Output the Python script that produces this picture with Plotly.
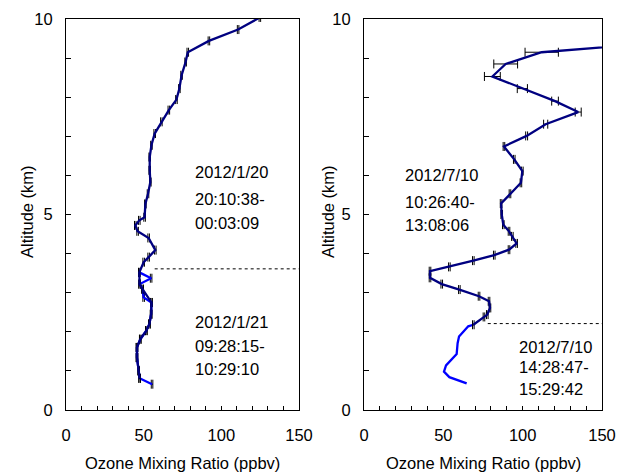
import plotly.graph_objects as go

# ---------------- data ----------------
# Left panel: 2012/1/20 profile (navy, with error bars)
left_a_ozone = [124.8, 110.8, 92.0, 78.4, 77.0, 74.4, 73.0, 71.1, 66.2, 61.4, 57.1, 55.0, 53.9, 53.9,
                54.3, 52.8, 51.1, 50.6, 47.2, 44.6, 46.1, 53.2, 57.5, 53.2, 50.0, 47.2,
                47.4, 49.3, 55.0, 54.8, 53.7, 51.7, 47.8, 45.7, 45.7, 46.8, 47.4]
left_a_alt = [10.04, 9.73, 9.44, 9.15, 8.90, 8.56, 8.22, 7.94, 7.67, 7.37, 7.07, 6.77, 6.47, 6.13,
              5.83, 5.53, 5.27, 4.93, 4.85, 4.72, 4.57, 4.40, 4.09, 3.91, 3.78, 3.52,
              3.22, 3.09, 2.75, 2.45, 2.20, 2.03, 1.81, 1.60, 1.34, 1.00, 0.81]
left_a_err = [0.5] * len(left_a_ozone)

# Left panel: 2012/1/21 profile (blue)
left_b_ozone = [55.4, 47.4, 46.8, 45.7, 45.7, 47.8, 51.7, 53.7, 54.8, 55.0, 50.0, 49.3, 47.4, 54.8, 47.2]
left_b_alt = [0.66, 0.81, 1.00, 1.34, 1.60, 1.81, 2.03, 2.20, 2.45, 2.75, 2.88, 3.09, 3.22, 3.37, 3.52]
left_b_err = [0.5] * len(left_b_ozone)

# Right panel: 2012/7/10 10:26-13:08 profile (navy, with error bars)
right_a_ozone = [153.5, 170.0, 112.0, 89.3, 80.9, 99.8, 120.4, 135.0, 114.5, 102.5, 88.2, 94.7, 99.8,
                 98.9, 92.0, 86.4, 86.8, 87.8, 91.4, 93.5, 96.2, 91.4, 82.1, 68.9, 53.8, 41.6, 41.6,
                 49.0, 60.1, 72.5, 78.8, 79.4, 77.7, 75.6, 68.9]
right_a_alt = [9.70, 9.34, 9.15, 8.85, 8.53, 8.22, 7.90, 7.62, 7.31, 7.01, 6.74, 6.41, 6.11,
               5.81, 5.53, 5.28, 5.00, 4.74, 4.57, 4.44, 4.26, 4.10, 3.96, 3.82, 3.66, 3.55, 3.38,
               3.22, 3.08, 2.91, 2.78, 2.61, 2.44, 2.38, 2.18]
right_a_err = [1.0, 0.5, 10.5, 7.5, 5.0, 3.2, 2.1, 1.9, 1.3, 0.6, 0.5, 0.5, 0.5,
               0.5, 0.5, 0.5, 0.5, 0.5, 0.5, 0.5, 0.5, 0.5, 0.5, 0.5, 0.5, 0.5, 0.5,
               0.5, 0.5, 0.5, 0.5, 0.5, 0.5, 0.5, 0.5]

# Right panel: 2012/7/10 14:28-15:29 profile (blue)
right_b_ozone = [64.7, 53.8, 50.4, 51.7, 58.4, 59.0, 59.9, 65.7, 68.9]
right_b_alt = [0.68, 0.84, 0.98, 1.14, 1.43, 1.71, 1.88, 2.14, 2.18]

# Dotted separator lines: (start ozone, end ozone, altitude)
left_sep = (57.1, 150.0, 3.61)
right_sep = (78.0, 150.0, 2.21)

x_title = "Ozone Mixing Ratio (ppbv)"
y_title = "Altitude (km)"
left_labels = ["2012/1/20", "20:10:38-", "00:03:09", "2012/1/21", "09:28:15-", "10:29:10"]
right_labels = ["2012/7/10", "10:26:40-", "13:08:06", "2012/7/10", "14:28:47-", "15:29:42"]

# ---------------- layout geometry ----------------
W, H = 618, 473
ML, MR, MT, MB = 66, 16, 19, 63
PW = W - ML - MR
PH = H - MT - MB
FONT = "Liberation Sans, Arial, sans-serif"
FS = 16.5

def px(x):
    return (x - ML) / PW

def py(y):
    return (H - MB - y) / PH

NAVY = "#000080"
BLUE = "#0000FF"

fig = go.Figure()

def err(vals):
    return dict(type="data", array=vals, symmetric=True, color="black", thickness=1, width=4.5)

fig.add_trace(go.Scatter(x=left_b_ozone, y=left_b_alt, mode="lines", line=dict(color=BLUE, width=2.3),
                         error_x=err(left_b_err), xaxis="x", yaxis="y", showlegend=False))
fig.add_trace(go.Scatter(x=left_a_ozone, y=left_a_alt, mode="lines", line=dict(color=NAVY, width=2.3),
                         error_x=err(left_a_err), xaxis="x", yaxis="y", showlegend=False))
fig.add_trace(go.Scatter(x=right_b_ozone, y=right_b_alt, mode="lines", line=dict(color=BLUE, width=2.3),
                         xaxis="x2", yaxis="y2", showlegend=False))
fig.add_trace(go.Scatter(x=right_a_ozone, y=right_a_alt, mode="lines", line=dict(color=NAVY, width=2.3),
                         error_x=err(right_a_err), xaxis="x2", yaxis="y2", showlegend=False))

# dotted separators
fig.add_trace(go.Scatter(x=[left_sep[0], left_sep[1]], y=[left_sep[2], left_sep[2]], mode="lines",
                         line=dict(color="black", width=1, dash="dot"), xaxis="x", yaxis="y", showlegend=False))
fig.add_trace(go.Scatter(x=[right_sep[0], right_sep[1]], y=[right_sep[2], right_sep[2]], mode="lines",
                         line=dict(color="black", width=1, dash="dot"), xaxis="x2", yaxis="y2", showlegend=False))

xax = dict(range=[0, 150], dtick=50, tick0=0, ticks="inside", ticklen=4, tickcolor="black",
           minor=dict(dtick=10, ticks="inside", ticklen=4, tickcolor="black"),
           showline=True, linecolor="black", linewidth=1, mirror=True, showgrid=False, zeroline=False,
           automargin=False,
           tickfont=dict(family=FONT, size=FS, color="black"), ticklabelstandoff=10)
yax = dict(range=[0, 10], dtick=5, tick0=0, ticks="inside", ticklen=5, tickcolor="black",
           minor=dict(dtick=1, ticks="inside", ticklen=5, tickcolor="black"),
           showline=True, linecolor="black", linewidth=1, mirror=True, showgrid=False, zeroline=False,
           automargin=False,
           tickfont=dict(family=FONT, size=FS, color="black"), ticklabelstandoff=9)

left_dom = [0, px(299)]
right_dom = [px(364), 1]

fig.update_layout(
    width=W, height=H, margin=dict(l=ML, r=MR, t=MT, b=MB),
    paper_bgcolor="white", plot_bgcolor="white",
    xaxis=dict(xax, domain=left_dom, anchor="y"),
    yaxis=dict(yax, domain=[0, 1], anchor="x"),
    xaxis2=dict(xax, domain=right_dom, anchor="y2"),
    yaxis2=dict(yax, domain=[0, 1], anchor="x2"),
    showlegend=False,
)

ann = []
def text(s, x, y, xanchor="left", angle=0):
    ann.append(dict(text=s, x=px(x), y=py(y), xref="paper", yref="paper", showarrow=False,
                    xanchor=xanchor, yanchor="middle", textangle=angle,
                    font=dict(family=FONT, size=FS, color="black")))

left_pos = [(193, 172), (193, 199), (193, 223), (193, 322), (193, 346), (193, 369)]
right_pos = [(403, 175), (403, 202), (403, 225), (517, 347), (517, 367), (517, 389)]
for s, (x, y) in zip(left_labels, left_pos):
    text(s, x, y)
for s, (x, y) in zip(right_labels, right_pos):
    text(s, x, y)

text(x_title, (66 + 299) / 2, 463, xanchor="center")
text(x_title, (364 + 602) / 2, 463, xanchor="center")
text(y_title, 27, 212, xanchor="center", angle=-90)
text(y_title, 328, 212, xanchor="center", angle=-90)

fig.update_layout(annotations=ann)
fig.write_html(
    "out.html",
    config={"displayModeBar": False},
    post_script="document.body.style.margin='0';document.body.style.padding='0';"
                "document.documentElement.style.overflow='hidden';",
)
